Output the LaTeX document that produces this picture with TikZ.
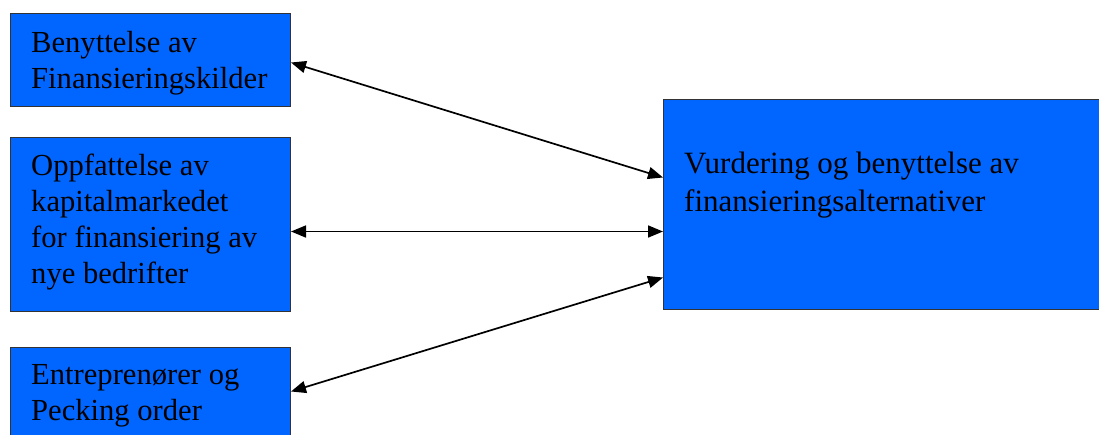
\documentclass[tikz,border=0pt]{standalone}
\usepackage{fontspec}
\setmainfont{Liberation Serif}
\usetikzlibrary{arrows.meta}
\definecolor{boxblue}{RGB}{0,102,255}
\tikzset{
  x=1pt, y=-1pt,
  box/.style={draw=black!80, line width=1pt, fill=boxblue, anchor=north west, inner sep=0pt},
  lbl/.style={anchor=base west, align=left, inner sep=0pt, font=\fontsize{30.6}{36}\selectfont},
  rlbl/.style={anchor=base west, align=left, inner sep=0pt, font=\fontsize{31}{38}\selectfont},
  link/.style={line width=1.7pt, {Triangle[length=15pt,width=12pt]}-{Triangle[length=15pt,width=12pt]}}
}
\begin{document}
\begin{tikzpicture}
\useasboundingbox (0,0) rectangle (1099,434);
\node[box, minimum width=280pt, minimum height=93pt] (b1) at (10,13) {};
\node[box, minimum width=280pt, minimum height=174pt] (b2) at (10,137) {};
\node[box, minimum width=280pt, minimum height=100pt] (b3) at (10,347) {};
\node[box, minimum width=445pt, minimum height=210pt] (b4) at (663,99) {};
% base anchor of a multi-line node = baseline of its last line
\node[lbl] (t1) at (31,88) {Benyttelse av\\Finansieringskilder};
\node[lbl] (t2) at (31,283) {Oppfattelse av\\kapitalmarkedet\\for finansiering av\\nye bedrifter};
\node[lbl] (t3) at (31,420) {Entreprenører og\\Pecking order};
\node[rlbl] (t4) at (684,211) {Vurdering og benyttelse av\\finansieringsalternativer};
\draw[link] ([yshift=-2.5pt]b1.east) -- ([yshift=27pt]b4.west);
\draw[link] ([yshift=-7pt]b2.east) -- ([yshift=-27pt]b4.west);
\draw[link] ([yshift=6pt]b3.east) -- ([yshift=-73pt]b4.west);
\end{tikzpicture}
\end{document}
